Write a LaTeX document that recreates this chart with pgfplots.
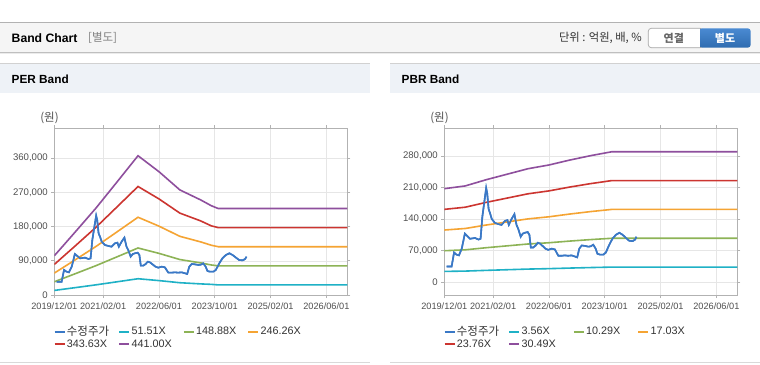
\documentclass[border=0pt]{standalone}
\usepackage{fontspec}
\setmainfont{Liberation Sans}
\newfontfamily\kr{Noto Sans CJK KR}
\usepackage{pgfplots}
\usepackage{pgfplotstable}
\pgfplotsset{compat=1.18}

\definecolor{cprice}{HTML}{3A78C6}
\definecolor{ccyan}{HTML}{1FB1C6}
\definecolor{cgreen}{HTML}{8DB356}
\definecolor{corange}{HTML}{F5A433}
\definecolor{cred}{HTML}{CC3530}
\definecolor{cpurple}{HTML}{8E4F9D}
\definecolor{frame}{HTML}{B2B2B2}
\definecolor{gridc}{HTML}{E6E6E6}
\definecolor{ticktext}{HTML}{505050}
\definecolor{legtext}{HTML}{333333}
\definecolor{btntop}{HTML}{4A8AD2}
\definecolor{btnbot}{HTML}{2F6CB0}
\definecolor{panelhead}{HTML}{EEF2F7}

\pgfplotstableread{
m v
0.7 35000
2.1 35000
2.8 66000
3.5 61400
4.2 59700
5.0 74600
5.9 107900
6.6 102600
7.4 96500
8.8 98300
9.8 94700
10.4 96500
10.9 144700
11.5 179800
12.0 208800
12.3 197400
12.7 162300
13.1 153500
13.6 140400
14.5 131600
15.5 129000
16.4 127200
17.4 136000
18.1 137700
18.5 127200
19.3 140400
20.1 150900
20.7 127200
21.2 118400
21.9 100900
22.5 107900
23.1 109700
23.9 111400
24.4 105300
24.8 77200
25.5 77200
26.2 81600
26.8 87700
27.4 86000
28.4 79000
29.0 74600
29.8 71900
30.8 74600
31.7 72800
32.7 58800
33.6 58800
34.6 59700
35.5 58800
36.5 59700
37.5 57000
38.1 55300
38.7 74600
39.4 81600
40.3 80700
41.3 79000
42.0 79800
42.7 83300
43.4 74600
43.9 63200
44.6 61400
45.6 61400
46.3 65800
47.3 83300
48.2 96500
49.2 105300
50.2 109700
51.1 105300
52.1 98300
53.0 92100
54.0 91200
54.7 94700
55.1 100900
}\price

\pgfplotstableread{
m b1 b2 b3 b4 b5
0 12050 34840 57630 80410 103190
6 19370 55980 92590 129200 165820
12 26790 77420 128060 178690 229320
18 34770 100490 166230 231950 297680
24 42800 123720 204640 285560 366470
30 37910 109580 181250 252910 324580
36 32300 93350 154410 215460 276510
42 29210 84410 139630 194840 250050
45 28000 79000 131000 182000 235000
47 26580 76820 127070 177310 227560
84 26580 76820 127070 177310 227560
}\perband

\pgfplotstableread{
m c1 c2 c3 c4 c5
0 24208 69972 115804 161568 207332
6 24920 72030 119210 166320 213430
12 26522 76661 126874 177012 227151
18 27946 80777 133686 186516 239347
24 29370 84893 140498 196020 251543
30 30331 87671 145096 202435 259775
36 31613 91375 151226 210989 270751
42 32752 94668 156676 218592 280508
48 33749 97549 161444 225245 289045
84 33749 97549 161444 225245 289045
}\pbrband

\pgfplotsset{
  bandaxis/.style={
    anchor=south west, scale only axis, width=293pt, height=166.7pt,
    xmin=0, xmax=84, scaled y ticks=false, scaled x ticks=false,
    axis line style={draw=frame, line width=0.9pt},
    grid=major, major grid style={draw=gridc, line width=0.6pt},
    tick align=outside, major tick length=3pt,
    tick style={draw=frame, line width=0.7pt},
    xtick={0,14,30,46,62,78},
    xticklabels={2019/12/01,2021/02/01,2022/06/01,2023/10/01,2025/02/01,2026/06/01},
    x tick label style={font=\fontsize{9.2}{10}\selectfont, text=ticktext, yshift=-1pt},
    y tick label style={font=\fontsize{9.6}{10}\selectfont, text=ticktext},
    every axis plot/.append style={line width=1.6pt, no markers},
    legend columns=4, legend cell align=left,
    legend image code/.code={\draw[##1, line width=2.2pt] (0pt,0pt) -- (10pt,0pt);},
    legend style={draw=none, fill=none, at={(0,0)}, anchor=north west,
      xshift=-4pt, yshift=-28pt,
      font=\fontsize{10.8}{12.5}\selectfont, text=legtext,
      nodes={inner sep=1.2pt},
      /tikz/every even column/.append style={column sep=0pt}},
    clip=true,
  }
}

\begin{document}
\begin{tikzpicture}
\path[use as bounding box, fill=white] (0pt,0pt) rectangle (760pt,364pt);
% top header band
\fill[gray!8] (0pt,311.3pt) rectangle (760pt,341.7pt);
\draw[draw=frame, line width=1pt] (0pt,341.7pt) -- (760pt,341.7pt);
\draw[draw=black!25, line width=1pt] (0pt,311.3pt) -- (760pt,311.3pt);
\draw[draw=black!8, line width=1pt] (0pt,310.3pt) -- (760pt,310.3pt);
\node[anchor=west, inner sep=0pt] at (11.5pt,325.8pt) {\fontsize{12.2}{14}\selectfont\bfseries Band Chart};
\node[anchor=west, inner sep=0pt, text=black!50] at (88pt,325.8pt) {\kr\fontsize{11.5}{13}\selectfont [별도]};
\node[anchor=east, inner sep=0pt, text=black!80] at (642pt,325.8pt) {\kr\fontsize{11.3}{13}\selectfont 단위 : 억원, 배, \%};
\draw[draw=black!35, fill=white, rounded corners=3pt, line width=0.7pt] (648.3pt,316.3pt) rectangle (703pt,335.7pt);
\shade[top color=btntop, bottom color=btnbot, rounded corners=3pt] (699.3pt,316.3pt) rectangle (750.7pt,335.7pt);
\fill[white] (699pt,316.6pt) rectangle (699.6pt,335.4pt);
\node[text=black!60] at (673.8pt,326pt) {\kr\fontsize{11}{13}\selectfont\bfseries 연결};
\node[text=white] at (725pt,326pt) {\kr\fontsize{11}{13}\selectfont\bfseries 별도};
% panel headers
\fill[panelhead] (0pt,271.3pt) rectangle (370pt,300pt);
\fill[panelhead] (390pt,271.3pt) rectangle (760pt,300pt);
\draw[draw=black!18, line width=1pt] (0pt,300pt) -- (370pt,300pt);
\draw[draw=black!18, line width=1pt] (390pt,300pt) -- (760pt,300pt);
\node[anchor=west, inner sep=0pt] at (11.5pt,284.5pt) {\fontsize{11.8}{14}\selectfont\bfseries PER Band};
\node[anchor=west, inner sep=0pt] at (401.5pt,284.5pt) {\fontsize{11.8}{14}\selectfont\bfseries PBR Band};
\node[text=ticktext] at (49.5pt,246pt) {\kr\fontsize{11.5}{13}\selectfont (원)};
\node[text=ticktext] at (439.5pt,246pt) {\kr\fontsize{11.5}{13}\selectfont (원)};
% bottom lines
\draw[draw=black!15, line width=1.6pt] (0pt,1.5pt) -- (370pt,1.5pt);
\draw[draw=black!15, line width=1.6pt] (390pt,1.5pt) -- (760pt,1.5pt);

\begin{axis}[bandaxis, at={(54.3pt,69pt)},
  ymin=0, ymax=438700,
  ytick={0,90000,180000,270000,360000},
  yticklabels={0,{90,000},{180,000},{270,000},{360,000}}]
\addplot[color=cprice] table[x=m,y=v] {\price};
\addplot[color=ccyan] table[x=m,y=b1] {\perband};
\addplot[color=cgreen] table[x=m,y=b2] {\perband};
\addplot[color=corange] table[x=m,y=b3] {\perband};
\addplot[color=cred] table[x=m,y=b4] {\perband};
\addplot[color=cpurple] table[x=m,y=b5] {\perband};
\addplot[color=cprice] table[x=m,y=v] {\price};
\legend{\makebox[50pt][l]{\kr\fontsize{11.5}{12}\selectfont 수정주가},\makebox[50pt][l]{51.51X},\makebox[50pt][l]{148.88X},\makebox[50pt][l]{246.26X},\makebox[50pt][l]{343.63X},\makebox[50pt][l]{441.00X}}
\end{axis}

\begin{axis}[bandaxis, at={(444.3pt,69pt)},
  ymin=-28000, ymax=341000,
  ytick={0,70000,140000,210000,280000},
  yticklabels={0,{70,000},{140,000},{210,000},{280,000}}]
\addplot[color=cprice] table[x=m,y=v] {\price};
\addplot[color=ccyan] table[x=m,y=c1] {\pbrband};
\addplot[color=cgreen] table[x=m,y=c2] {\pbrband};
\addplot[color=corange] table[x=m,y=c3] {\pbrband};
\addplot[color=cred] table[x=m,y=c4] {\pbrband};
\addplot[color=cpurple] table[x=m,y=c5] {\pbrband};
\addplot[color=cprice] table[x=m,y=v] {\price};
\legend{\makebox[50pt][l]{\kr\fontsize{11.5}{12}\selectfont 수정주가},\makebox[50pt][l]{3.56X},\makebox[50pt][l]{10.29X},\makebox[50pt][l]{17.03X},\makebox[50pt][l]{23.76X},\makebox[50pt][l]{30.49X}}
\end{axis}
\end{tikzpicture}
\end{document}
